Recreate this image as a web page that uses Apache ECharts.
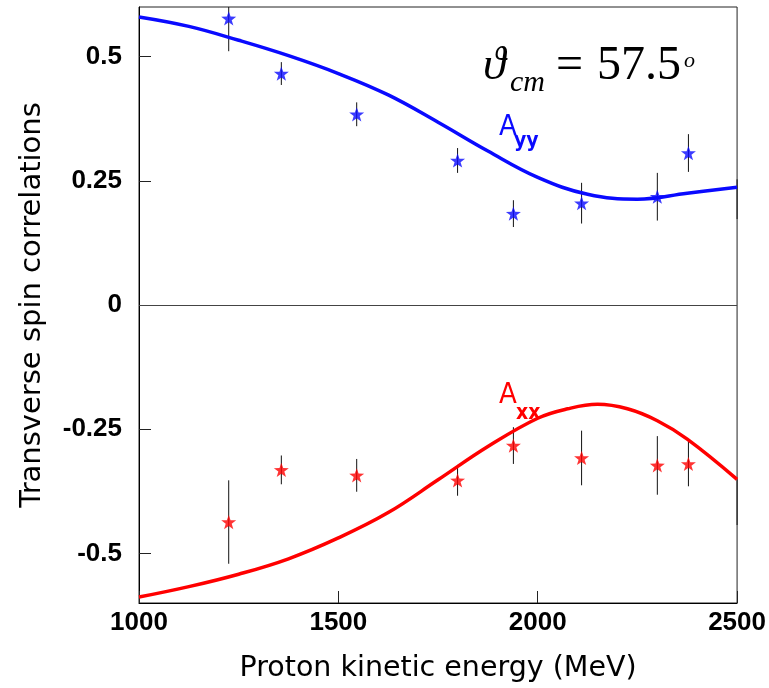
<!DOCTYPE html>
<html><head><meta charset="utf-8">
<script src="https://cdn.jsdelivr.net/npm/echarts@6/dist/echarts.min.js"></script>
<style>html,body{margin:0;padding:0;background:#fff}#c{width:769px;height:688px}</style>
</head><body><div id="c"></div>
<script>
// ---- data ----
const xTicks = [1000, 1500, 2000, 2500];
const yTicks = [-0.5, -0.25, 0, 0.25, 0.5];

const ayyEnergy = [1225, 1357, 1546, 1799, 1939, 2110, 2300, 2378, 2500];
const ayyValue  = [0.577, 0.466, 0.384, 0.291, 0.184, 0.205, 0.218, 0.306, 0.213];
const ayyError  = [0.066, 0.023, 0.024, 0.025, 0.027, 0.041, 0.048, 0.038, 0.040];

const axxEnergy = [1225, 1357, 1546, 1799, 1939, 2110, 2300, 2378, 2500];
const axxValue  = [-0.437, -0.332, -0.343, -0.353, -0.283, -0.308, -0.323, -0.320, -0.397];
const axxError  = [0.084, 0.029, 0.033, 0.031, 0.037, 0.055, 0.059, 0.045, 0.046];

const ayyCurveE = [1000, 1125, 1250, 1375, 1500, 1625, 1750, 1875, 2000, 2125, 2250, 2375, 2500];
const ayyCurveV = [0.580, 0.561, 0.533, 0.502, 0.466, 0.423, 0.368, 0.310, 0.257, 0.223, 0.213, 0.225, 0.237];

const axxCurveE = [1000, 1125, 1250, 1375, 1500, 1625, 1750, 1875, 2000, 2075, 2150, 2225, 2300, 2375, 2500];
const axxCurveV = [-0.588, -0.567, -0.542, -0.511, -0.469, -0.418, -0.352, -0.285, -0.228, -0.209, -0.200, -0.209, -0.233, -0.270, -0.351];

// ---- chart ----
const STAR = 'path://M50 0 L61.76 33.82 L97.55 34.55 L69.02 56.18 L79.39 90.45 L50 70 L20.61 90.45 L30.98 56.18 L2.45 34.55 L38.24 33.82 Z';
const BLUE = '#0a0aff', RED = '#ff0000';

function errSeries(E, V, Err) {
  return {
    type: 'custom', clip: true, z: 2, silent: true,
    data: E.map((e, i) => [e, V[i] - Err[i], V[i] + Err[i]]),
    encode: { x: 0, y: [1, 2] },
    renderItem: (params, api) => {
      const a = api.coord([api.value(0), api.value(1)]);
      const b = api.coord([api.value(0), api.value(2)]);
      return { type: 'line', shape: { x1: a[0], y1: a[1], x2: b[0], y2: b[1] },
               style: { stroke: '#111', lineWidth: 1 } };
    }
  };
}
function starSeries(E, V, color) {
  const d = [];
  E.forEach((e, i) => { if (e < 2500) d.push([e, V[i]]); });
  return { type: 'scatter', data: d, symbol: STAR, symbolKeepAspect: true, symbolSize: 15,
           itemStyle: { color: color }, z: 4, silent: true };
}
function curve(E, V, color) {
  return { type: 'line', data: E.map((e, i) => [e, V[i]]), showSymbol: false, symbol: 'none',
           smooth: 0.4, lineStyle: { color: color, width: 3.5 }, z: 3, silent: true };
}

const chart = echarts.init(document.getElementById('c'));
const axisFont = { fontFamily: '"Liberation Sans", Arial, sans-serif', fontWeight: 'bold', fontSize: 26, color: '#000' };
const NARROW = '"Liberation Sans Narrow", "DejaVu Sans Condensed", "Liberation Sans", sans-serif';
chart.setOption({
  animation: false,
  backgroundColor: '#fff',
  grid: { left: 139, right: 31, top: 7, bottom: 84, show: true, borderColor: '#222', borderWidth: 1, backgroundColor: 'transparent' },
  xAxis: {
    type: 'value', min: 1000, max: 2500, interval: 500,
    name: 'Proton kinetic energy (MeV)', nameLocation: 'middle', nameGap: 51,
    nameTextStyle: { fontFamily: '"DejaVu Sans", sans-serif', fontSize: 28.5, color: '#000' },
    axisLine: { show: true, onZero: false, lineStyle: { color: '#000', width: 1 } },
    axisTick: { show: true, inside: true, length: 12, lineStyle: { color: '#222' } },
    axisLabel: Object.assign({ margin: 7, customValues: xTicks, formatter: v => String(v) }, axisFont),
    splitLine: { show: false }
  },
  yAxis: {
    type: 'value', min: -0.6, max: 0.6,
    name: 'Transverse spin correlations', nameLocation: 'middle', nameGap: 92, nameRotate: 90,
    nameTextStyle: { fontFamily: '"DejaVu Sans", sans-serif', fontSize: 29, color: '#000' },
    axisLine: { show: true, onZero: false, lineStyle: { color: '#000', width: 1 } },
    axisTick: { show: true, inside: true, length: 12, customValues: yTicks, lineStyle: { color: '#222' } },
    axisLabel: Object.assign({ margin: 17, customValues: yTicks, formatter: v => String(v) }, axisFont),
    splitLine: { show: false }
  },
  series: [
    { type: 'line', data: [], markLine: { silent: true, symbol: 'none', label: { show: false },
        lineStyle: { color: '#444', width: 1, type: 'solid' }, data: [{ yAxis: 0 }] } },
    errSeries(ayyEnergy, ayyValue, ayyError),
    errSeries(axxEnergy, axxValue, axxError),
    curve(ayyCurveE, ayyCurveV, BLUE),
    curve(axxCurveE, axxCurveV, RED),
    starSeries(ayyEnergy, ayyValue, BLUE),
    starSeries(axxEnergy, axxValue, RED)
  ],
  graphic: [
    { type: 'text', left: 483, top: 44, style: { text: 'ϑ', font: 'italic 46px "Liberation Serif", "DejaVu Serif", serif', fill: '#000' } },
    { type: 'text', left: 510, top: 68, style: { text: 'cm', font: 'italic 30px "Liberation Serif", serif', fill: '#000' } },
    { type: 'text', left: 556, top: 42, style: { text: '=', font: '48px "Liberation Serif", serif', fill: '#000' } },
    { type: 'text', left: 597, top: 42, style: { text: '57.5', font: '48px "Liberation Serif", serif', fill: '#000' } },
    { type: 'text', left: 684, top: 50, style: { text: 'o', font: 'italic 22px "Liberation Serif", serif', fill: '#000' } },
    { type: 'text', left: 499, top: 113, style: { text: 'A', font: '29px ' + NARROW, fill: BLUE } },
    { type: 'text', left: 514, top: 131, style: { text: 'yy', font: 'bold 21px ' + NARROW, fill: BLUE } },
    { type: 'text', left: 499, top: 381, style: { text: 'A', font: '29px ' + NARROW, fill: RED } },
    { type: 'text', left: 516, top: 403, style: { text: 'xx', font: 'bold 21px ' + NARROW, fill: RED } }
  ]
});
</script>
</body></html>
